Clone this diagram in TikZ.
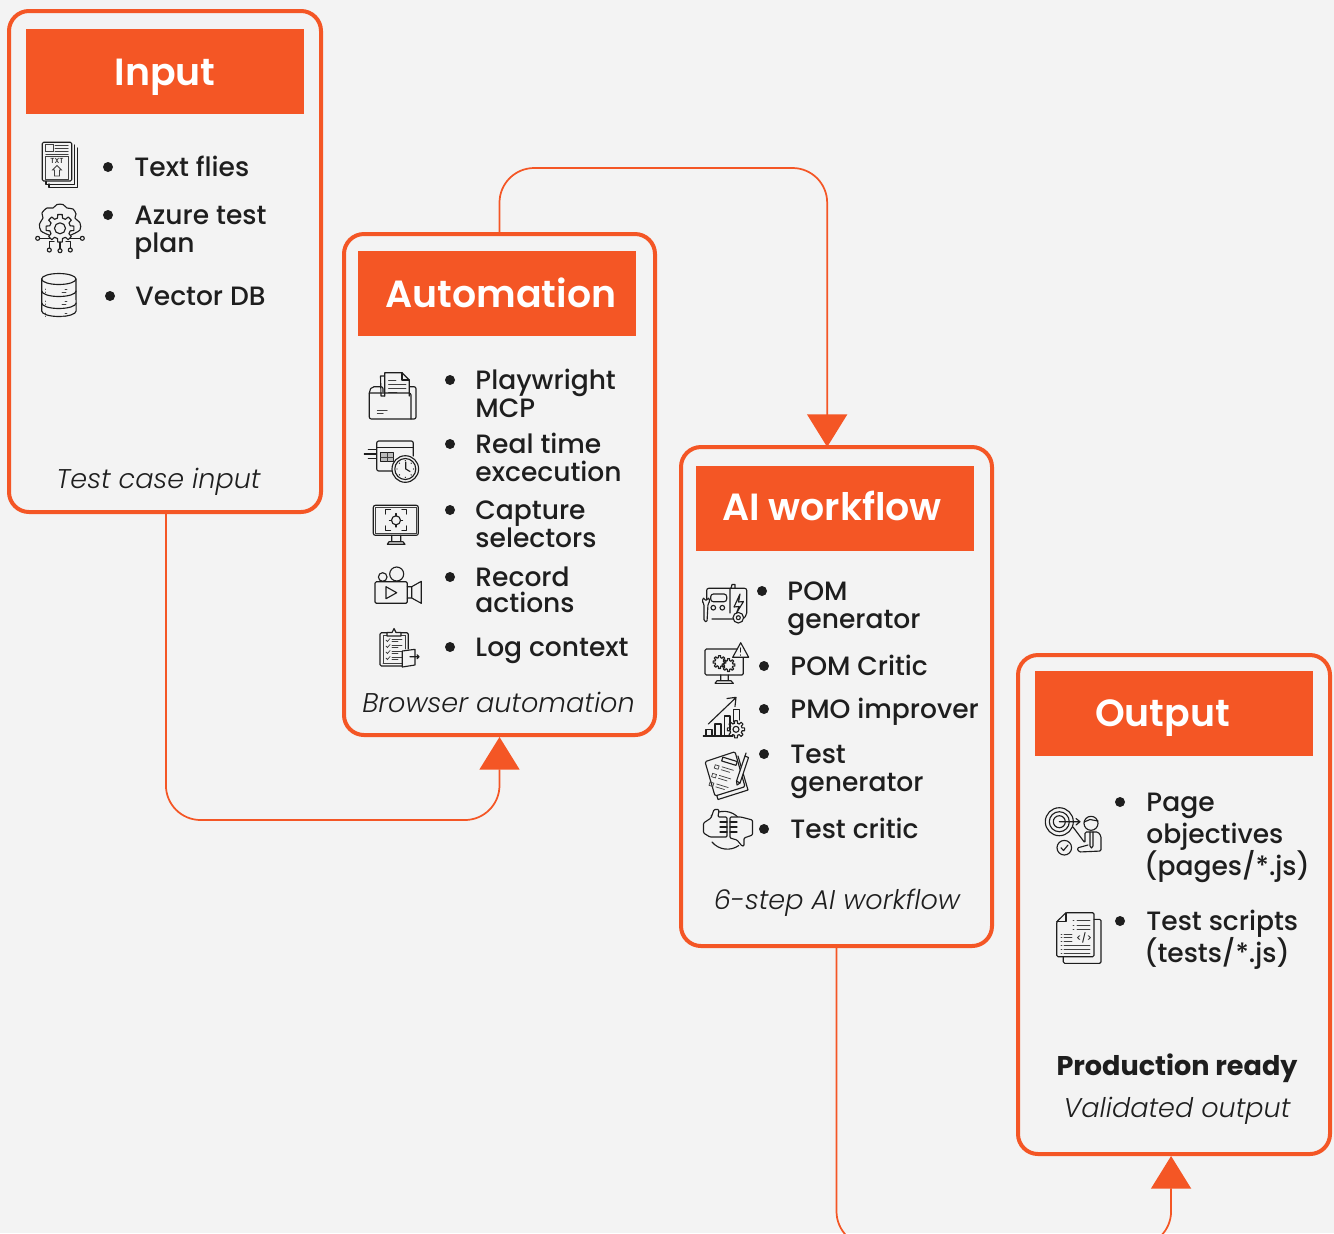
\documentclass[tikz,border=0pt]{standalone}
\usepackage{fontspec}
\usepackage{xcolor}
\usetikzlibrary{arrows.meta}
\setmainfont{Poppins}[UprightFont=* Medium,BoldFont=* SemiBold,ItalicFont=* Light Italic]
\newfontfamily\heavyfont{Poppins}[UprightFont=* Bold]
\definecolor{brandorange}{HTML}{F45625}
\definecolor{pagegrey}{HTML}{F3F3F3}
\definecolor{inkdark}{HTML}{1E1E1E}
\newlength{\px}
\setlength{\px}{0.75pt}
\tikzset{
  panel/.style={draw=brandorange, line width=3pt, rounded corners=15pt, minimum width=#1},
  banner/.style={fill=brandorange, text=white, minimum width=278\px, text height=#1\px, text depth=85\px-#1\px, inner sep=0pt, font=\fontsize{28.4}{34}\selectfont\bfseries},
  flow/.style={draw=brandorange, line width=1.3pt, rounded corners=26pt},
  bigtip/.style={-{Triangle[length=24.5pt,width=30pt,fill=brandorange]}},
  bulletdot/.style={circle, fill=inkdark, minimum size=10\px, inner sep=0pt},
  itemtext/.style={anchor=base west, xshift=-0.6pt, inner sep=0pt, align=left, text=inkdark, font=\fontsize{19.9}{21}\selectfont},
  caption/.style={inner sep=0pt, text=inkdark, font=\fontsize{20.3}{24}\selectfont\itshape},
  icon/.style={draw=inkdark, line width=0.85pt, line join=round, line cap=round},
  thinicon/.style={draw=inkdark!85, line width=0.55pt, line cap=round},
}
\newcommand{\gearicon}[4]{% x, y, outer, inner
  \foreach \a in {0,45,...,315}
    \draw[icon, shift={(#1,#2)}] (\a-14:#4) -- (\a-9:#3) -- (\a+9:#3) -- (\a+14:#4) -- (\a+31:#4);
}
\newcommand{\listentry}[6]{% name, bullet x, bullet y, text x, last baseline, text
  \node[bulletdot] (dot#1) at (#2,#3) {};
  \node[itemtext] (item#1) at (#4,#5) {#6};
}
\begin{document}
\begin{tikzpicture}[x=1\px, y=-1\px]
        \fill[pagegrey] (0,0) rectangle (1334,1233);
        \clip (0,0) rectangle (1334,1233);

        % Panels
        \node[panel=312\px, minimum height=501\px] (inputbox) at (165,261.5) {};
        \node[panel=311\px, minimum height=501\px] (autobox) at (499.5,484.5) {};
        \node[panel=311\px, minimum height=499\px] (aibox) at (836.5,696.5) {};
        \node[panel=312\px, minimum height=499\px] (outputbox) at (1174,904.5) {};

        % Headers
        \node[banner=56] (inputhead) at (165,71.5) {Input};
        \node[banner=56] (autohead) at (497,293.5) {\hspace*{8\px}Automation};
        \node[banner=54] (aihead) at (835,508.5) {\hspace*{-6\px}AI workflow};
        \node[banner=55] (outputhead) at (1174,713.5) {\hspace*{-23\px}Output};

        % List items
        \listentry{a}{108}{167}{135}{176}{Text flies}
        \listentry{b}{108}{215}{135}{252}{Azure test\\plan}
        \listentry{c}{110}{296}{136}{305}{Vector DB}
        \listentry{d}{450}{380}{476}{417}{Playwright\\MCP}
        \listentry{e}{450}{444}{476}{481}{Real time\\excecution}
        \listentry{f}{450}{510}{476}{547}{Capture\\selectors}
        \listentry{g}{450}{577}{476}{612}{Record\\[-1.5pt]actions}
        \listentry{h}{450}{647}{476}{656}{Log context}
        \listentry{j}{762}{591}{788}{628}{POM\\generator}
        \listentry{k}{764}{666}{791}{675}{POM Critic}
        \listentry{l}{764}{709}{791}{718}{PMO improver}
        \listentry{m}{764}{754}{791}{791}{Test\\generator}
        \listentry{n}{764}{829}{791}{838}{Test critic}
        \listentry{p}{1120}{802}{1147}{875}{Page\\[3pt]objectives\\[-1pt]\hspace*{-2\px}(pages/*.js)}
        \listentry{q}{1120}{921}{1147}{962}{Test scripts\\[-1.2pt]\hspace*{-2\px}(tests/*.js)}

        % Captions
        \node[caption] (inputcap) at (158.5,482) {Test case input};
        \node[caption] (autocap) at (498.5,702) {Browser automation};
        \node[caption] (aicap) at (837,903) {6-step AI workflow};
        \node[caption] (outputcap) at (1177,1111) {Validated output};
        \node[inner sep=0pt, text=inkdark, font=\fontsize{20.3}{24}\heavyfont] (readylabel) at (1177,1068) {Production ready};

        % Connectors
        \coordinate (belowout) at (836.5,1246);
        \draw[flow, bigtip] ([xshift=0.7pt]inputbox.south) |- (autobox.south |- 0,820) -- (autobox.south);
        \draw[flow, bigtip] (autobox.north) |- ([xshift=-7pt]aibox.north |- 0,168) -- ([xshift=-7pt,yshift=-1.5pt]aibox.north);
        \draw[flow, bigtip] (aibox.south) -- (belowout) -| ([xshift=-2.2pt]outputbox.south);

        % Icon text file
        \draw[icon] (49,184) -- (49,187.7) -- (77.7,187.7) -- (77.7,148);
        \draw[icon] (46,181.5) -- (46,184.5) -- (74.7,184.5) -- (74.7,145);
        \draw[icon, rounded corners=1pt] (42.3,142.3) rectangle (71.7,181);
        \draw[thinicon] (45.7,144.3) rectangle (53.3,151.7) (45.7,156.7) rectangle (68.3,179);
        \foreach \y in {145,148,151.5} \draw[thinicon] (55,\y) -- (68.3,\y);
        \draw[thinicon] (45.7,154.5) -- (68.3,154.5);
        \node[inner sep=0pt, text=inkdark, font=\fontsize{5.5}{6}\selectfont] (txtlabel) at (57,161) {TXT};
        \draw[thinicon] (54.5,176) -- (54.5,170) -- (52.5,170) -- (57,165.5) -- (61.5,170) -- (59.5,170) -- (59.5,176) -- cycle;

        % Icon cloud gear
        \draw[icon] plot[smooth] coordinates {(49,235) (41,231) (39.5,224) (43,218) (42,213) (47,208) (53,208) (57,204.5) (63,204.5) (67,208) (73,209) (76,214) (75,218) (80,223) (80,230) (71,235)};
        \gearicon{60}{228.3}{14}{10.5}
        \draw[icon] (60,228.3) circle[radius=5.5];
        \foreach \x/\y in {37.7/238.3,49.3/250,60/250.7,70.3/250,82.3/238.3} \draw[icon] (\x,\y) circle[radius=2];
        \draw[icon] (39.7,238.3) -- (50,238.3) (49.3,248) -- (49.3,241.5) -- (54,241.5) (60,248.7) -- (60,242) (70.3,248) -- (70.3,241.5) -- (66,241.5) (80.3,238.3) -- (70,238.3);

        % Icon database
        \draw[icon] (41.7,279) -- (41.7,311) arc[start angle=180, end angle=0, x radius=17.2, y radius=5.5] -- (76,279);
        \draw[icon] (58.8,279) ellipse[x radius=17.2, y radius=5.5];
        \draw[icon] (41.7,291) arc[start angle=180, end angle=0, x radius=17.2, y radius=5.5];
        \draw[icon] (41.7,303) arc[start angle=180, end angle=0, x radius=17.2, y radius=5.5];
        \foreach \y in {289,301,313} {
            \draw[thinicon] (45,\y) -- (45,\y+0.4) (45,\y+3) -- (45,\y+3.4) (62,\y+3) -- (66,\y+3) (65,\y) -- (67,\y);
        }

        % Icon folder
        \draw[icon, rounded corners=1.5pt] (383,392) -- (383,386.7) -- (372,386.7) -- (369.3,391) -- (369.3,419) -- (416,419) -- (416,386.7) -- (410,386.7);
        \draw[icon] (384.7,396) -- (381,396) -- (380.5,376) -- (384.7,376);
        \draw[icon, fill=pagegrey] (384.7,396) -- (384.7,372.7) -- (402,372.7) -- (409.3,380) -- (409.3,396);
        \draw[icon] (402,372.7) -- (402,380) -- (409.3,380);
        \foreach \y/\xb in {380/396,384/406,388/406,392/397} \draw[thinicon] (388.5,\y) -- (\xb,\y);
        \draw[icon, rounded corners=1.5pt] (369.3,393) -- (411,393) -- (411,419);
        \draw[thinicon] (377.3,410) -- (387.3,410) (377.3,413.3) -- (383.3,413.3);

        % Icon card with clock
        \draw[icon, rounded corners=1.5pt] (393,471) -- (376.7,471) -- (376.7,441) -- (413.3,441) -- (413.3,456);
        \draw[icon] (376.7,447.3) -- (413.3,447.3);
        \draw[icon, fill=inkdark!30] (380.7,452.7) rectangle (393.3,461.3);
        \draw[thinicon] (387,452.7) -- (387,461.3) (380.7,457) -- (393.3,457);
        \draw[icon] (368.3,449.3) -- (376,449.3) (364.3,454) -- (376,454) (368.3,458.7) -- (376,458.7);
        \draw[icon, fill=pagegrey] (405.3,469) circle[radius=13.3];
        \draw[icon] (405.3,469) circle[radius=10.5];
        \draw[icon] (405.8,462) -- (405.8,469) -- (410,471.5);
        \foreach \a in {0,45,...,315} \fill[inkdark, shift={(405.3,469)}] (\a:8.3) circle[radius=0.7];

        % Icon monitor target
        \draw[icon, rounded corners=1.5pt] (373.3,505.3) rectangle (418.3,535.3);
        \draw[thinicon] (375,507) rectangle (416.6,533.6);
        \draw[icon] (391.7,535.3) -- (391.7,541.7) (400.7,535.3) -- (400.7,541.7) (387.3,544.3) -- (389,541.7) -- (403,541.7) -- (405,544.3) -- cycle;
        \draw[icon] (385.7,514) -- (385.7,509.3) -- (390.5,509.3) (402,509.3) -- (406.7,509.3) -- (406.7,514);
        \draw[icon] (385.7,526) -- (385.7,530.7) -- (390.5,530.7) (402,530.7) -- (406.7,530.7) -- (406.7,526);
        \draw[icon] (396,520.3) circle[radius=4.5];
        \draw[icon] (396,513.5) -- (396,516) (396,524.5) -- (396,527) (389.5,520.3) -- (391.5,520.3) (400.5,520.3) -- (402.5,520.3);

        % Icon camera
        \draw[icon, rounded corners=1pt] (375,581.7) rectangle (407.3,603.3);
        \draw[icon] (382.7,577) circle[radius=4.3] (396.7,574) circle[radius=7];
        \draw[icon] (386,586.7) -- (386,598.7) -- (396.7,592.7) -- cycle;
        \draw[icon] (407.3,586.7) -- (411.7,586.7) -- (421.3,581.3) -- (421.3,603.3) -- (411.7,598) -- (407.3,598) (411.7,586.7) -- (411.7,598);

        % Icon clipboard
        \draw[icon, rounded corners=1pt] (402,666) -- (380,666) -- (380,632.7) -- (408.3,632.7) -- (408.3,649);
        \draw[thinicon] (383,663.5) -- (402,663.5) (383,663.5) -- (383,635.5) -- (405.5,635.5) -- (405.5,649);
        \draw[icon, fill=pagegrey] (387,636) -- (387,632.5) -- (392,632.5) -- (394,628.5) -- (396,632.5) -- (401,632.5) -- (401,636) -- cycle;
        \foreach \y in {640,646,652,658} {
            \draw[thinicon] (386,\y) -- (387.5,\y+1.5) -- (390,\y-1.5);
            \draw[thinicon] (392,\y-1) -- (402,\y-1) (392,\y+1.5) -- (398,\y+1.5);
        }
        \draw[icon, fill=pagegrey] (402.3,651) -- (415,649.3) -- (415,665) -- (402.3,667) -- cycle;
        \draw[icon] (410,656.7) -- (419,656.7) (417,654.7) -- (419,656.7) -- (417,658.7);

        % Icon generator
        \draw[icon, rounded corners=1.5pt] (706.7,612) -- (706.7,588.3) -- (746.7,588.3) -- (746.7,615) -- (744,618) (733,619) -- (712,619);
        \draw[icon] (730,588.3) -- (730,613) (731,588.3) -- (732,584.5) -- (735,584.5) -- (735,588.3);
        \draw[icon, rounded corners=2pt] (710.7,594) rectangle (726.7,601.7);
        \draw[icon] (713.3,607.7) circle[radius=2.3] (722.3,607.7) circle[radius=2.3];
        \draw[icon] (740,594) -- (734,607) -- (739,606.5) -- (736.5,613) -- (743.5,601.5) -- (738.5,602) -- cycle;
        \draw[icon, fill=pagegrey] (738.3,617.7) circle[radius=5.3];
        \draw[icon] (738.3,617.7) circle[radius=2];
        \draw[icon, fill=pagegrey, rounded corners=1pt] (704,597) -- (702,601) -- (704,604) -- (704,621) -- (707,622) -- (708,604) -- (710,601) -- (708,597) -- (708,600) -- (704,600) -- cycle;

        % Icon monitor warning
        \draw[icon, rounded corners=1pt] (738,649) -- (705,649) -- (705,675) -- (743.3,675) -- (743.3,657);
        \draw[icon] (720.7,675) -- (720.7,680.7) (728.3,675) -- (728.3,680.7) (715,683.3) -- (717,680.7) -- (731,680.7) -- (733.3,683.3) -- cycle;
        \draw[icon, fill=pagegrey] (740.7,642.7) -- (732.7,657.3) -- (748.7,657.3) -- cycle;
        \draw[icon] (740.7,648) -- (740.7,652) (740.7,654.8) -- (740.7,655.2);
        \gearicon{719.5}{662}{6.5}{4.5}
        \gearicon{728.5}{665}{6.5}{4.5}

        % Icon chart gear
        \draw[icon] (703.3,736) -- (733,736);
        \draw[icon] (706,736) -- (706,729.3) -- (712,729.3) -- (712,736);
        \draw[icon] (715,736) -- (715,724) -- (721,724) -- (721,736);
        \draw[icon] (724.3,736) -- (724.3,716) -- (730,716) -- (730,730);
        \draw[icon] (733.5,722) -- (733.5,709.5) -- (739.5,709.5) -- (739.5,720);
        \draw[icon] (708.3,724) -- (735,698.5) (727,698.5) -- (736,697.3) -- (735,706.5);
        \gearicon{736}{729.3}{8.7}{6.2}
        \draw[icon] (736,729.3) circle[radius=3];

        % Icon test sheet
        \draw[icon] (718,799.5) -- (748,790) -- (738,756) (708,766) -- (718,799.5);
        \draw[icon, fill=pagegrey, rounded corners=1pt] (705,761.7) -- (735,751.7) -- (745,786.7) -- (715,796) -- cycle;
        \draw[icon, rotate around={-17:(725,774)}] (718,758.5) rectangle (733,762.5);
        \foreach \y in {768,777,786} {
            \draw[thinicon, rotate around={-17:(725,774)}] (713,\y) rectangle (717,\y+3.5);
            \draw[thinicon, rotate around={-17:(725,774)}] (720,\y) -- (732,\y) (720,\y+3) -- (729,\y+3);
        }
        \draw[icon, fill=pagegrey] (745,756) -- (748.5,757.5) -- (740,783) -- (736.5,781) -- cycle;
        \draw[icon] (746,753) -- (745,756) (736.5,781) -- (737,785) -- (740,783);

        % Icon fists
        \draw[icon] (711,816) arc[start angle=230, end angle=320, radius=20];
        \draw[icon] (712,842) arc[start angle=140, end angle=55, radius=20];
        \draw[icon, fill=pagegrey, rounded corners=0.8pt] (703.5,823) -- (711,818) -- (714,809.5) -- (719,809.5) -- (718,817) -- (727,817) -- (727,837) -- (710,837) -- (703.5,833) -- cycle;
        \draw[icon, fill=pagegrey, rounded corners=0.8pt] (752.5,820) -- (741,817) -- (730,817) -- (730,838) -- (737,840) -- (742,846) -- (744,846) -- (744,838) -- (752.5,835) -- cycle;
        \foreach \y in {822,827,832} \draw[icon] (720,\y) -- (727,\y) (730,\y) -- (737,\y);

        % Icon target person
        \draw[icon] (1059.3,821.7) circle[radius=14] circle[radius=10] circle[radius=6];
        \draw[icon] (1059.3,821.7) -- (1080,821.7) (1076,818.5) -- (1080,821.7) -- (1076,825);
        \draw[icon] (1091,823.3) circle[radius=7];
        \draw[icon] (1084,822) -- (1090,819.5) -- (1098,821);
        \draw[icon, rounded corners=1pt] (1073,827) -- (1085,843) -- (1085,832) -- (1098,832) -- (1101,836) -- (1101,851) -- (1079,852) -- (1077,848) -- (1088,845);
        \draw[icon] (1090,832) -- (1090,846) (1093,832) -- (1093,846) (1090,846) -- (1091.5,848) -- (1093,846);
        \draw[icon] (1064.3,847.7) circle[radius=7.3];
        \draw[icon] (1061,847.7) -- (1063.5,850.5) -- (1068,845);

        % Icon code sheet
        \draw[icon, rounded corners=1pt] (1094,919.3) -- (1101,919.3) -- (1101,963.3) -- (1063.3,963.3) -- (1063.3,956.7);
        \draw[icon, rounded corners=1pt] (1056.7,921.7) -- (1066,912.7) -- (1094,912.7) -- (1094,956.7) -- (1056.7,956.7) -- cycle;
        \draw[icon] (1066,912.7) -- (1066,921.7) -- (1056.7,921.7);
        \foreach \y in {920,925,929} \draw[thinicon] (1073,\y) -- (1074,\y) (1077,\y) -- (1090,\y);
        \foreach \y in {934,937.5,941} \draw[thinicon] (1061,\y) -- (1062,\y) (1064,\y) -- (1072,\y);
        \foreach \y in {945,949,953} \draw[thinicon] (1061,\y) -- (1062,\y) (1064,\y) -- (1090,\y);
        \node[inner sep=0pt, text=inkdark, font=\fontsize{7}{8}\selectfont] (codelabel) at (1084,938) {</>};
\end{tikzpicture}
\end{document}
